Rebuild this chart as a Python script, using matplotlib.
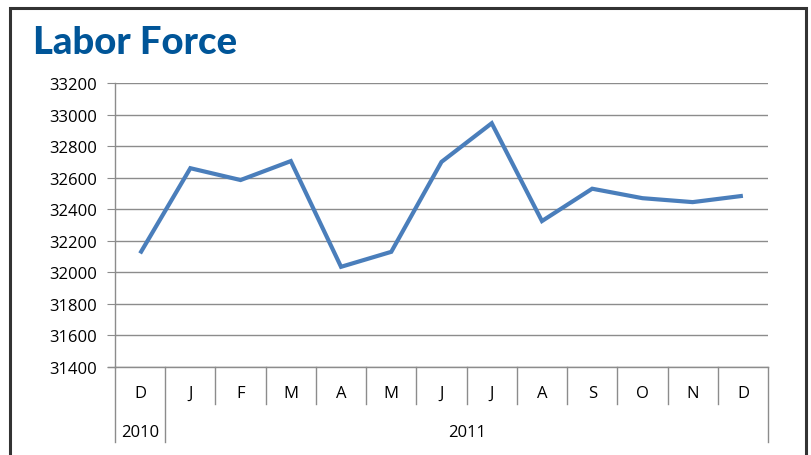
import numpy as np
import matplotlib.pyplot as plt
from matplotlib.patches import Rectangle
from matplotlib.transforms import blended_transform_factory

# data
months = ['D', 'J', 'F', 'M', 'A', 'M', 'J', 'J', 'A', 'S', 'O', 'N', 'D']
years = ['2010', '2011']
year_spans = [(0, 0), (1, 12)]
labor_force = [32120, 32660, 32585, 32705, 32035, 32130, 32700,
               32945, 32325, 32530, 32470, 32445, 32485]
yticks = np.arange(31400, 33201, 200)

plt.rcParams['font.family'] = ['Open Sans', 'DejaVu Sans']

fig = plt.figure(figsize=(8.12, 4.56), dpi=100)
ax = fig.add_axes([115 / 812, 88 / 456, 653 / 812, 284 / 456])

# outer frame (open at the bottom, like the clipped original)
fig.patches.append(Rectangle((10 / 812, -0.05), 796 / 812, 1.05 - 9 / 456,
                             transform=fig.transFigure, fill=False,
                             edgecolor='#333333', linewidth=2.2))

x = np.arange(len(months))
ax.plot(x, labor_force, color='#4A7EBB', linewidth=3, solid_joinstyle='miter',
        solid_capstyle='butt', zorder=3)

ax.set_xlim(-0.5, len(months) - 0.5)
ax.set_ylim(yticks[0], yticks[-1])
ax.set_yticks(yticks)
ax.set_yticklabels([str(v) for v in yticks], fontsize=12)
ax.yaxis.grid(True, color='#8c8c8c', linewidth=1)
ax.set_axisbelow(True)
ax.tick_params(axis='y', length=6, color='#8c8c8c', pad=7)
ax.set_xticks([])

for side in ['top', 'right']:
    ax.spines[side].set_visible(False)
for side in ['left', 'bottom']:
    ax.spines[side].set_color('#8c8c8c')
    ax.spines[side].set_linewidth(1)

# multi-level category axis
trans = blended_transform_factory(ax.transData, ax.transAxes)
ax.plot([-0.5 - 0.14, -0.5], [0, 0], color='#8c8c8c', lw=1,
        transform=trans, clip_on=False)
for i, m in enumerate(months):
    ax.text(i, -0.09, m, transform=trans, ha='center', va='center',
            fontsize=12, color='black')
long_edges = {-0.5, 0.5, len(months) - 0.5}
for b in np.arange(-0.5, len(months), 1.0):
    low = -0.265 if b in long_edges else -0.13
    ax.plot([b, b], [0, low], color='#8c8c8c', lw=1, transform=trans,
            clip_on=False)
for label, (a, b) in zip(years, year_spans):
    ax.text((a + b) / 2, -0.23, label, transform=trans, ha='center',
            va='center', fontsize=12, color='black')

fig.text(33 / 812, 1 - 43 / 456, 'Labor Force', fontsize=27.5, fontweight='black',
         color='#005598', family=['Lato', 'DejaVu Sans'], ha='left', va='center')

fig.savefig('out.png', dpi=100)
